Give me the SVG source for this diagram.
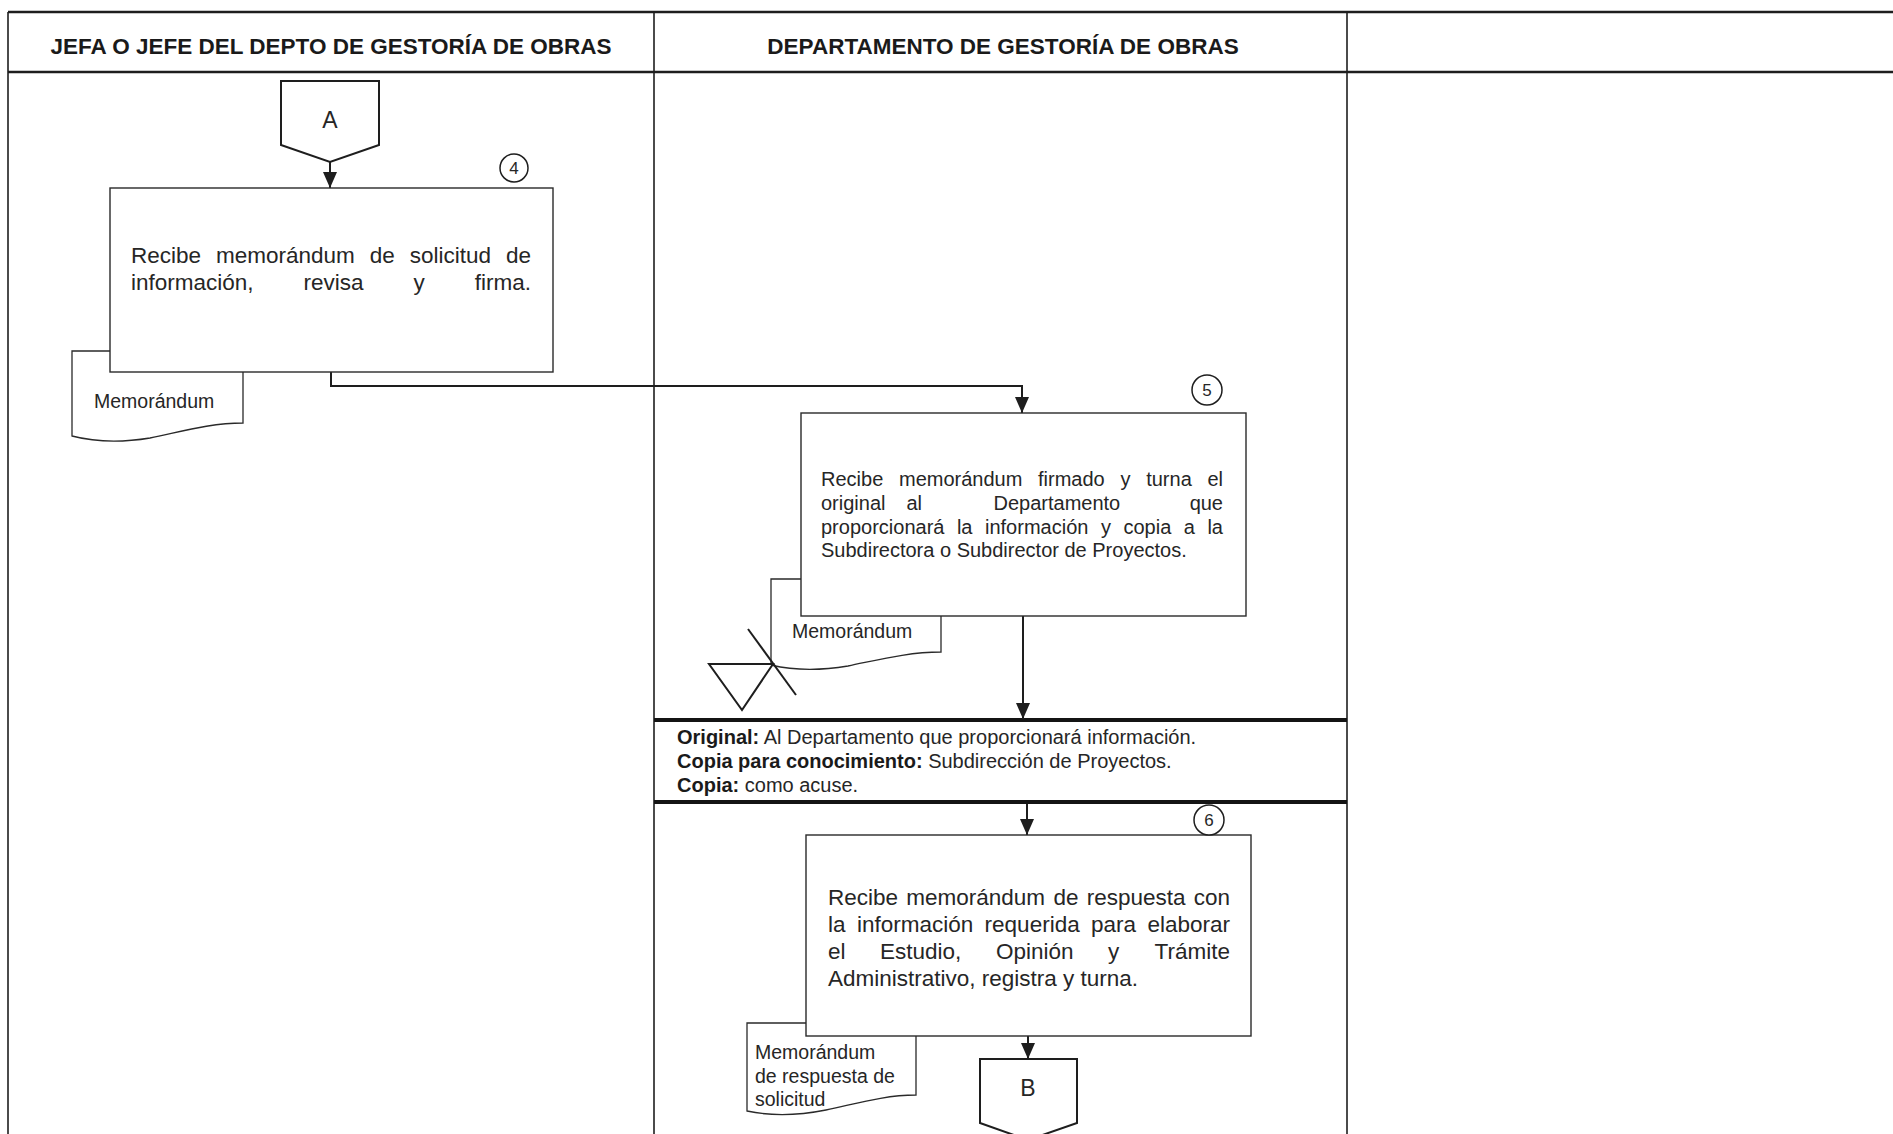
<svg xmlns="http://www.w3.org/2000/svg" width="1893" height="1134" viewBox="0 0 1893 1134">
  <defs>
    <style>
      .grid { stroke: #1e1e1e; stroke-width: 1.6; fill: none; }
      .head { stroke: #1e1e1e; stroke-width: 2.4; fill: none; }
      .band { stroke: #141414; stroke-width: 4; fill: none; }
      .box { fill: #ffffff; stroke: #2a2a2a; stroke-width: 1.4; }
      .doc { fill: #ffffff; stroke: #2a2a2a; stroke-width: 1.3; }
      .conn { fill: none; stroke: #1e1e1e; stroke-width: 2; }
      .sym { fill: #ffffff; stroke: #1e1e1e; stroke-width: 2; }
      .num { fill: #ffffff; stroke: #1e1e1e; stroke-width: 1.5; }
      text { font-family: "Liberation Sans", Arial, sans-serif; fill: #262626; }
      .title { font-size: 22.5px; font-weight: bold; fill: #1a1a1a; }
      .t225 { font-size: 22.5px; }
      .t20 { font-size: 20px; }
      .tdoc { font-size: 19.5px; }
      .tnum { font-size: 17px; }
      .tcon { font-size: 23px; }
      .b { font-weight: bold; fill: #1a1a1a; }
    </style>
    <marker id="arrow" markerWidth="16" markerHeight="14" refX="16" refY="7" orient="auto" markerUnits="userSpaceOnUse">
      <path d="M0,0 L16,7 L0,14 Z" fill="#1e1e1e"/>
    </marker>
  </defs>

  <rect x="0" y="0" width="1893" height="1134" fill="#ffffff"/>

  <!-- swimlane table -->
  <g id="lanes">
    <line class="head" x1="8" y1="12" x2="1893" y2="12"/>
    <line class="head" x1="8" y1="72" x2="1893" y2="72"/>
    <line class="grid" x1="8" y1="12" x2="8" y2="1134"/>
    <line class="grid" x1="654" y1="12" x2="654" y2="1134"/>
    <line class="grid" x1="1347" y1="12" x2="1347" y2="1134"/>
    <text class="title" x="331" y="54" text-anchor="middle">JEFA O JEFE DEL DEPTO DE GESTORÍA DE OBRAS</text>
    <text class="title" x="1003" y="54" text-anchor="middle">DEPARTAMENTO DE GESTORÍA DE OBRAS</text>
  </g>

  <!-- distribution band -->
  <g id="distribution">
    <line class="band" x1="654" y1="720" x2="1347" y2="720"/>
    <line class="band" x1="654" y1="802" x2="1347" y2="802"/>
    <text class="t20" x="677" y="744"><tspan class="b">Original:</tspan> Al Departamento que proporcionará información.</text>
    <text class="t20" x="677" y="768"><tspan class="b">Copia para conocimiento:</tspan> Subdirección de Proyectos.</text>
    <text class="t20" x="677" y="792"><tspan class="b">Copia:</tspan> como acuse.</text>
  </g>

  <!-- connectors -->
  <g id="connectors">
    <path class="conn" d="M330,162 L330,188" marker-end="url(#arrow)"/>
    <path class="conn" d="M331,372 L331,386 L1022,386 L1022,413" marker-end="url(#arrow)"/>
    <path class="conn" d="M1023,616 L1023,719" marker-end="url(#arrow)"/>
    <path class="conn" d="M1027,804 L1027,835" marker-end="url(#arrow)"/>
    <path class="conn" d="M1028,1036 L1028,1059" marker-end="url(#arrow)"/>
  </g>

  <!-- off-page connector A -->
  <g id="conn-A">
    <path class="sym" d="M281,81 L379,81 L379,145 L330,162 L281,145 Z"/>
    <text class="tcon" x="330" y="128" text-anchor="middle">A</text>
  </g>

  <!-- step 4 -->
  <g id="doc-4">
    <path class="doc" d="M72,351 L243,351 L243,423 C210,423 180,432 150,438 C120,443 95,442 72,436 Z"/>
    <text class="tdoc" x="94" y="408">Memorándum</text>
  </g>
  <g id="step-4">
    <rect class="box" x="110" y="188" width="443" height="184"/>
    <circle class="num" cx="514" cy="168" r="14"/>
    <text class="tnum" x="514" y="174" text-anchor="middle">4</text>
    <text class="t225" y="263">
      <tspan x="131">Recibe</tspan><tspan x="216">memorándum</tspan><tspan x="369.8">de</tspan><tspan x="409.7">solicitud</tspan><tspan x="531" text-anchor="end">de</tspan>
    </text>
    <text class="t225" y="290">
      <tspan x="131">información,</tspan><tspan x="303.5">revisa</tspan><tspan x="413.5">y</tspan><tspan x="531" text-anchor="end">firma.</tspan>
    </text>
  </g>

  <!-- step 5 -->
  <g id="doc-5">
    <path class="doc" d="M771,579 L941,579 L941,652 C908,652 878,660 848,666 C818,671 792,670 771,665 Z"/>
    <text class="tdoc" x="792" y="638">Memorándum</text>
  </g>
  <g id="archive-5">
    <path class="sym" d="M709,664 L773,664 L742,710 Z"/>
    <line class="conn" x1="748" y1="629" x2="796" y2="695"/>
  </g>
  <g id="step-5">
    <rect class="box" x="801" y="413" width="445" height="203"/>
    <circle class="num" cx="1207" cy="390" r="15"/>
    <text class="tnum" x="1207" y="396" text-anchor="middle">5</text>
    <text class="t20" y="486">
      <tspan x="821">Recibe</tspan><tspan x="899">memorándum</tspan><tspan x="1038">firmado</tspan><tspan x="1120.4">y</tspan><tspan x="1146.2">turna</tspan><tspan x="1223" text-anchor="end">el</tspan>
    </text>
    <text class="t20" y="510">
      <tspan x="821">original</tspan><tspan x="906.5">al</tspan><tspan x="993.5">Departamento</tspan><tspan x="1223" text-anchor="end">que</tspan>
    </text>
    <text class="t20" y="534">
      <tspan x="821">proporcionará</tspan><tspan x="956.9">la</tspan><tspan x="985">información</tspan><tspan x="1100.9">y</tspan><tspan x="1123.5">copia</tspan><tspan x="1183.8">a</tspan><tspan x="1223" text-anchor="end">la</tspan>
    </text>
    <text class="t20" x="821" y="557">Subdirectora o Subdirector de Proyectos.</text>
  </g>

  <!-- step 6 -->
  <g id="doc-6">
    <path class="doc" d="M747,1023 L916,1023 L916,1095 C884,1095 855,1104 826,1110 C796,1116 770,1116 747,1111 Z"/>
    <text class="tdoc" x="755" y="1059">Memorándum</text>
    <text class="tdoc" x="755" y="1083">de respuesta de</text>
    <text class="tdoc" x="755" y="1106">solicitud</text>
  </g>
  <g id="step-6">
    <rect class="box" x="806" y="835" width="445" height="201"/>
    <circle class="num" cx="1209" cy="820" r="15"/>
    <text class="tnum" x="1209" y="826" text-anchor="middle">6</text>
    <text class="t225" y="905">
      <tspan x="828">Recibe</tspan><tspan x="906.3">memorándum</tspan><tspan x="1053.4">de</tspan><tspan x="1086.7">respuesta</tspan><tspan x="1230" text-anchor="end">con</tspan>
    </text>
    <text class="t225" y="932">
      <tspan x="828">la</tspan><tspan x="856.9">información</tspan><tspan x="984.6">requerida</tspan><tspan x="1091">para</tspan><tspan x="1230" text-anchor="end">elaborar</tspan>
    </text>
    <text class="t225" y="959">
      <tspan x="828">el</tspan><tspan x="880">Estudio,</tspan><tspan x="995.9">Opinión</tspan><tspan x="1108">y</tspan><tspan x="1230" text-anchor="end">Trámite</tspan>
    </text>
    <text class="t225" x="828" y="986">Administrativo, registra y turna.</text>
  </g>

  <!-- off-page connector B -->
  <g id="conn-B">
    <path class="sym" d="M980,1059 L1077,1059 L1077,1123 L1028,1140 L980,1123 Z"/>
    <text class="tcon" x="1028" y="1096" text-anchor="middle">B</text>
  </g>
</svg>
